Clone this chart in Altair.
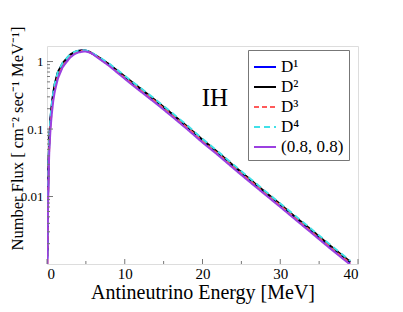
import altair as alt
import pandas as pd

energy = [0.05, 0.1, 0.2, 0.3, 0.45, 0.6, 0.8, 1.0, 1.4, 2.0, 2.5, 3.0, 3.5, 4.0, 4.5,
          5.0, 5.5, 6.0, 7.0, 8.0, 9.0, 10, 11, 12, 13, 14, 16, 18, 20, 22, 24, 26,
          28, 30, 32, 34, 36, 38, 39]

d1 = [0.0012, 0.006, 0.03, 0.07, 0.14, 0.21, 0.33, 0.45, 0.68, 0.92, 1.08, 1.25, 1.36, 1.43, 1.46,
      1.45, 1.38, 1.28, 1.08, 0.90, 0.73, 0.59, 0.48, 0.39, 0.318, 0.258, 0.168, 0.108, 0.068, 0.044,
      0.028, 0.018, 0.0116, 0.0075, 0.0048, 0.0031, 0.0020, 0.0013, 0.00105]
d2 = [0.0013, 0.0065, 0.032, 0.074, 0.145, 0.22, 0.34, 0.47, 0.70, 0.94, 1.10, 1.27, 1.38, 1.44, 1.46,
      1.45, 1.39, 1.29, 1.09, 0.91, 0.74, 0.60, 0.49, 0.40, 0.324, 0.263, 0.171, 0.110, 0.0695, 0.045,
      0.0286, 0.0184, 0.0118, 0.0077, 0.0049, 0.0032, 0.00205, 0.00133, 0.00108]
d3 = [0.001, 0.005, 0.025, 0.06, 0.12, 0.18, 0.29, 0.40, 0.60, 0.85, 1.02, 1.20, 1.32, 1.40, 1.44,
      1.44, 1.37, 1.27, 1.06, 0.88, 0.71, 0.575, 0.465, 0.38, 0.309, 0.251, 0.163, 0.105, 0.066, 0.0427,
      0.0272, 0.0175, 0.0112, 0.0073, 0.0047, 0.003, 0.00194, 0.00126, 0.00102]
d4 = [0.0013, 0.0066, 0.033, 0.075, 0.15, 0.225, 0.345, 0.47, 0.70, 0.95, 1.11, 1.28, 1.39, 1.45, 1.47,
      1.46, 1.40, 1.30, 1.11, 0.93, 0.76, 0.615, 0.50, 0.41, 0.333, 0.271, 0.177, 0.114, 0.0715, 0.0463,
      0.0295, 0.019, 0.0122, 0.0079, 0.0051, 0.0033, 0.00212, 0.00138, 0.00112]
d5 = [0.0009, 0.004, 0.02, 0.05, 0.10, 0.16, 0.26, 0.36, 0.56, 0.82, 0.98, 1.15, 1.28, 1.36, 1.40,
      1.41, 1.36, 1.26, 1.04, 0.86, 0.69, 0.555, 0.447, 0.363, 0.295, 0.24, 0.156, 0.10, 0.063, 0.041,
      0.026, 0.0167, 0.0108, 0.007, 0.0045, 0.0029, 0.00186, 0.00121, 0.00098]

series_names = ["D¹", "D²", "D³", "D⁴", "(0.8, 0.8)"]
series_values = [d1, d2, d3, d4, d5]
series_colors = ["#0000ff", "#000000", "#ff5a5a", "#40e0e8", "#9b40e0"]
series_dash = [[1, 0], [1, 0], [5, 3], [6, 4], [1, 0]]

x_major = [0, 10, 20, 30, 40]
x_minor = [5, 15, 25, 35]
y_major = [0.01, 0.1, 1]
y_minor = [0.002, 0.003, 0.004, 0.005, 0.006, 0.007, 0.008, 0.009,
           0.02, 0.03, 0.04, 0.05, 0.06, 0.07, 0.08, 0.09,
           0.2, 0.3, 0.4, 0.5, 0.6, 0.7, 0.8, 0.9]

rows = []
for name, vals in zip(series_names, series_values):
    for e, v in zip(energy, vals):
        rows.append({"E": e, "flux": v, "series": name})
df = pd.DataFrame(rows)

W, H = 311, 218
FONT = "Liberation Serif"

xscale = alt.Scale(domain=[0, 40], nice=False)
yscale = alt.Scale(type="log", domain=[0.001, 1.7], nice=False)

lines = alt.Chart(df).mark_line(strokeWidth=2, clip=True).encode(
    x=alt.X("E:Q", scale=xscale,
            axis=alt.Axis(title="Antineutrino Energy [MeV]", values=x_major, format="d",
                          tickSize=0, domain=False, grid=False, labelFont=FONT,
                          labelFontSize=15, labelPadding=2, titleFont=FONT,
                          titleFontSize=20, titleFontWeight="normal", titleY=18,
                          titleBaseline="top",
                          labelColor="#000", titleColor="#000")),
    y=alt.Y("flux:Q", scale=yscale,
            axis=alt.Axis(title="Number Flux [ cm⁻² sec⁻¹ MeV⁻¹]", values=y_major,
                          labelExpr="datum.value >= 1 ? '1' : datum.value >= 0.1 ? '0.1' : '0.01'",
                          tickSize=0, domain=False, grid=False, labelFont=FONT,
                          labelFontSize=13, labelPadding=4, titleFont=FONT,
                          titleFontSize=16.5, titleFontWeight="normal", titleX=-22, titleY=92,
                          labelColor="#000", titleColor="#000")),
    color=alt.Color("series:N", scale=alt.Scale(domain=series_names, range=series_colors),
                    legend=alt.Legend(title=None, orient="none", legendX=201, legendY=4,
                                      symbolType="stroke", symbolSize=484, symbolStrokeWidth=2,
                                      labelFont=FONT, labelFontSize=17, rowPadding=0,
                                      strokeColor="#777", fillColor="white", padding=5,
                                      labelOffset=4, labelColor="#000")),
    strokeDash=alt.StrokeDash("series:N",
                              scale=alt.Scale(domain=series_names, range=series_dash),
                              legend=None),
)

xt_major = alt.Chart(pd.DataFrame({"v": x_major})).mark_rule(color="#777", strokeWidth=1).encode(
    x=alt.X("v:Q", scale=xscale), y=alt.value(H), y2=alt.value(H - 5))
xt_minor = alt.Chart(pd.DataFrame({"v": x_minor})).mark_rule(color="#777", strokeWidth=1).encode(
    x=alt.X("v:Q", scale=xscale), y=alt.value(H), y2=alt.value(H - 3))
yt_major = alt.Chart(pd.DataFrame({"v": y_major})).mark_rule(color="#777", strokeWidth=1).encode(
    y=alt.Y("v:Q", scale=yscale), x=alt.value(0), x2=alt.value(6))
yt_minor = alt.Chart(pd.DataFrame({"v": y_minor})).mark_rule(color="#777", strokeWidth=1).encode(
    y=alt.Y("v:Q", scale=yscale), x=alt.value(0), x2=alt.value(3))

label = alt.Chart(pd.DataFrame({"E": [21.6], "flux": [0.29], "t": ["IH"]})).mark_text(
    font=FONT, fontSize=25, baseline="middle", align="center", color="#000").encode(
    x=alt.X("E:Q", scale=xscale), y=alt.Y("flux:Q", scale=yscale), text="t:N")

chart = alt.layer(lines, xt_major, xt_minor, yt_major, yt_minor, label).properties(
    width=W, height=H,
    autosize=alt.AutoSizeParams(type="none"),
    padding={"left": 39, "top": 38, "right": 37, "bottom": 40},
).configure_view(stroke="#777", strokeWidth=1.5).configure(background="white")

chart.save("out.html", embed_options={"renderer": "svg", "actions": False})
